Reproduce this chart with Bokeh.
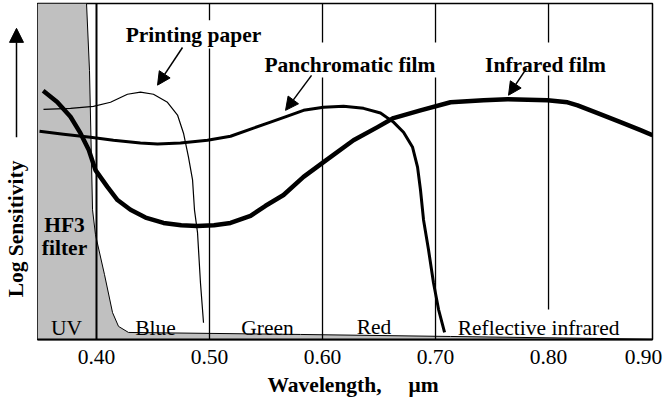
import math
from bokeh.plotting import figure
from bokeh.layouts import row
from bokeh.models import Label, Arrow, NormalHead, FixedTicker
from bokeh.embed import file_html
from bokeh.resources import INLINE

# ---------------- data (wavelength in micrometres, log sensitivity in arbitrary units) -------------
infrared_wl = [0.3528, 0.3652, 0.3770, 0.3858, 0.3932, 0.3991, 0.4095, 0.4186, 0.4301, 0.4434,
               0.4593, 0.4750, 0.4891, 0.5040, 0.5186, 0.5363, 0.5496, 0.5655, 0.5832, 0.6009,
               0.6274, 0.6487, 0.6628, 0.6867, 0.7133, 0.7425, 0.7637, 0.7991, 0.8168, 0.8257,
               0.8434, 0.8637, 0.8814, 0.8920]
infrared_s = [74.0, 70.7, 66.3, 61.4, 56.4, 50.4, 45.5, 41.5, 38.6, 36.3,
              34.7, 34.0, 33.8, 34.0, 34.7, 36.8, 39.8, 43.0, 48.4, 52.8,
              59.3, 63.2, 65.9, 68.2, 70.6, 71.2, 71.5, 71.2, 70.6, 69.7,
              67.4, 64.7, 62.3, 60.8]

pan_wl = [0.3496, 0.3708, 0.3947, 0.4150, 0.4389, 0.4540, 0.4743, 0.4982, 0.5186, 0.5389,
          0.5540, 0.5690, 0.5832, 0.6009, 0.6186, 0.6363, 0.6513, 0.6628, 0.6717, 0.6796,
          0.6841, 0.6867, 0.6894, 0.6938, 0.6982, 0.7027, 0.7080]
pan_s = [62.0, 61.1, 60.2, 59.3, 58.5, 58.2, 58.5, 59.3, 60.5, 62.9,
         64.7, 66.5, 68.2, 69.1, 69.4, 68.8, 67.4, 64.7, 61.7, 57.3,
         51.3, 44.5, 35.6, 26.7, 16.9, 8.9, 2.1]

paper_wl = [0.3531, 0.3770, 0.3973, 0.4124, 0.4274, 0.4389, 0.4504, 0.4628, 0.4717, 0.4770,
            0.4814, 0.4850, 0.4867, 0.4894, 0.4920, 0.4947]
paper_s = [68.5, 68.8, 69.4, 70.6, 73.0, 73.6, 73.0, 70.6, 66.8, 61.4,
           54.3, 47.5, 38.6, 31.8, 16.9, 5.0]

filter_wl = [0.3912, 0.3938, 0.3965, 0.3991, 0.4071, 0.4142, 0.4195, 0.4283, 0.5805, 0.7133, 0.8460, 0.8920]
filter_s = [100.0, 80.1, 38.6, 31.2, 19.3, 8.0, 3.9, 2.1, 1.5, 0.9, 0.3, 0.0]

x_min, x_max = 0.3478, 0.8920
y_min, y_max = 0.0, 100.0

# band dividers (drawn with gaps for the text labels)
div_x = [0.40, 0.50, 0.50, 0.60, 0.60, 0.70, 0.70, 0.80, 0.80]
div_y0 = [0.0, 0.0, 95.0, 0.0, 88.4, 0.0, 88.4, 8.9, 88.4]
div_y1 = [100.0, 86.6, 100.0, 78.0, 100.0, 78.0, 100.0, 78.6, 100.0]
div_w = [2.0, 1.3, 1.3, 1.3, 1.3, 1.3, 1.3, 1.3, 1.3]

tick_values = [0.40, 0.50, 0.60, 0.70, 0.80, 0.884]
tick_labels = ["0.40", "0.50", "0.60", "0.70", "0.80", "0.90"]

band_names = ["UV", "Blue", "Green", "Red", "Reflective infrared"]
band_x = [0.3735, 0.4522, 0.5513, 0.6456, 0.7912]
band_y = [3.56, 3.56, 3.56, 3.86, 3.56]

curve_names = ["Printing paper", "Panchromatic film", "Infrared film"]
curve_label_x = [0.4858, 0.6243, 0.7973]
curve_label_y = [90.5, 81.6, 81.6]
pointer_x0 = [0.4761, 0.5903, 0.7805]
pointer_y0 = [86.9, 78.6, 80.7]
pointer_x1 = [0.4540, 0.5673, 0.7646]
pointer_y1 = [75.7, 68.2, 72.7]

FONT = "Liberation Serif"
FS = "21.5px"
H = 399
TOP, BOTTOM = 3, 59

# ---------------- main chart ----------------
p = figure(width=635, height=H, x_range=(x_min, x_max), y_range=(y_min, y_max),
           output_backend="svg", toolbar_location=None, title=None,
           min_border_left=0, min_border_right=20, min_border_top=TOP, min_border_bottom=BOTTOM)
p.background_fill_color = "white"
p.border_fill_color = "white"
p.xgrid.visible = False
p.ygrid.visible = False
p.yaxis.visible = False
p.outline_line_color = "black"
p.outline_line_width = 1.5

ax = p.xaxis[0]
ax.ticker = FixedTicker(ticks=tick_values)
ax.major_label_overrides = {v: t for v, t in zip(tick_values, tick_labels)}
ax.major_tick_line_color = None
ax.minor_tick_line_color = None
ax.major_tick_out = 0
ax.major_tick_in = 0
ax.axis_line_width = 2
ax.axis_line_color = "black"
ax.major_label_standoff = 10
ax.major_label_text_font = FONT
ax.major_label_text_font_size = FS
ax.major_label_text_color = "black"
ax.axis_label = "\u00a0\u00a0\u00a0Wavelength,\u00a0\u00a0\u00a0\u00a0\u00a0\u03bcm"
ax.axis_label_standoff = 6
ax.axis_label_text_font = FONT
ax.axis_label_text_font_size = FS
ax.axis_label_text_font_style = "bold"
ax.axis_label_text_color = "black"

# HF3 filter shaded region
p.patch([x_min] + filter_wl + [x_min], [100.0] + filter_s + [0.0],
        fill_color="#c0c0c0", line_color=None)
p.line(filter_wl, filter_s, line_color="black", line_width=1)

# band dividers
p.segment(x0=div_x, y0=div_y0, x1=div_x, y1=div_y1, line_color="black", line_width=div_w)

# curves
p.line(paper_wl, paper_s, line_color="black", line_width=1.2)
p.line(pan_wl, pan_s, line_color="black", line_width=3, line_join="round")
p.line(infrared_wl, infrared_s, line_color="black", line_width=4.5, line_join="round")

# band labels
for name, bx, by in zip(band_names, band_x, band_y):
    p.add_layout(Label(x=bx, y=by, text=name, text_font=FONT, text_font_size=FS,
                       text_align="center", text_baseline="alphabetic", text_color="black"))

# filter label
for txt, fy in [("HF3", 34.1), ("filter", 27.3)]:
    p.add_layout(Label(x=0.3717, y=fy, text=txt, text_font=FONT, text_font_size=FS,
                       text_font_style="bold", text_align="center", text_baseline="alphabetic",
                       text_color="black"))

# curve labels and pointers
for name, lx, ly in zip(curve_names, curve_label_x, curve_label_y):
    p.add_layout(Label(x=lx, y=ly, text=name, text_font=FONT, text_font_size=FS,
                       text_font_style="bold", text_align="center", text_baseline="alphabetic",
                       text_color="black"))
for x0, y0, x1, y1 in zip(pointer_x0, pointer_y0, pointer_x1, pointer_y1):
    p.add_layout(Arrow(end=NormalHead(size=13, fill_color="black", line_color="black"),
                       x_start=x0, y_start=y0, x_end=x1, y_end=y1,
                       line_color="black", line_width=1.5))

# ---------------- left strip with the y-axis title ----------------
q = figure(width=37, height=H, x_range=(0, 37), y_range=(y_min, y_max),
           output_backend="svg", toolbar_location=None, title=None,
           min_border_left=0, min_border_right=0, min_border_top=TOP, min_border_bottom=BOTTOM)
q.xaxis.visible = False
q.yaxis.visible = False
q.xgrid.visible = False
q.ygrid.visible = False
q.outline_line_color = None
q.background_fill_color = "white"
q.border_fill_color = "white"
q.add_layout(Label(x=15, y=32.9, text="Log Sensitivity", angle=math.pi / 2,
                   text_font=FONT, text_font_size=FS, text_font_style="bold",
                   text_align="center", text_baseline="middle", text_color="black"))
q.add_layout(Arrow(end=NormalHead(size=14, fill_color="black", line_color="black"),
                   x_start=16, y_start=60.2, x_end=16, y_end=92.6,
                   line_color="black", line_width=1.5))

layout = row(q, p, spacing=0)
open("out.html", "w").write(file_html(layout, INLINE))
